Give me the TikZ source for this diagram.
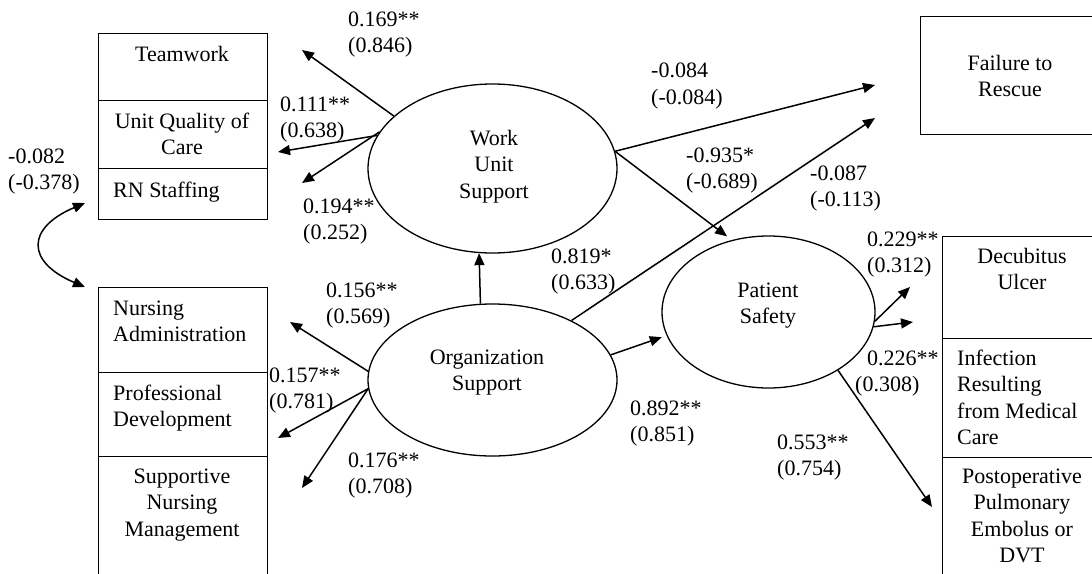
\documentclass[tikz,border=0pt]{standalone}
\usepackage{fontspec}
\setmainfont{Liberation Serif}
\usetikzlibrary{arrows.meta,shapes.geometric}
\newcommand\semfont{\fontsize{22}{26.5}\selectfont}
\begin{document}
\begin{tikzpicture}[x=1pt,y=-1pt,
  box/.style={draw,line width=1.4pt,rectangle,inner sep=0,anchor=north west},
  latent/.style={draw,line width=1.3pt,ellipse,inner sep=0},
  txt/.style={inner sep=0,font=\semfont},
  txtc/.style={txt,align=center,anchor=north},
  txtl/.style={txt,align=left,anchor=north west},
  tip/.style={-{Triangle[length=12pt,width=10pt]}},
  pathline/.style={line width=1.5pt,tip},
]
\useasboundingbox (0,0) rectangle (1092,573);
\clip (0,0) rectangle (1092,573);

% ---- indicator boxes, left ----
\node[box,minimum width=169pt,minimum height=67pt] (team) at (98,33) {};
\node[box,minimum width=169pt,minimum height=68pt] (uqc) at (98,100) {};
\node[box,minimum width=169pt,minimum height=51pt] (rn) at (98,168) {};
\node[box,minimum width=169pt,minimum height=85pt] (na) at (98,287) {};
\node[box,minimum width=169pt,minimum height=84pt] (pd) at (98,372) {};
\node[box,minimum width=169pt,minimum height=150pt] (snm) at (98,456) {};

% ---- outcome boxes, right ----
\node[box,minimum width=200pt,minimum height=118pt] (ftr) at (920,16) {};
\node[box,minimum width=180pt,minimum height=102pt] (dec) at (942,236) {};
\node[box,minimum width=180pt,minimum height=119pt] (inf) at (942,338) {};
\node[box,minimum width=180pt,minimum height=150pt] (pe) at (942,457) {};

% ---- box texts ----
\node[txtc] (teamT) at (182,42.45) {\strut Teamwork};
\node[txtc] (uqcT) at (182,109.45) {\strut Unit Quality of\\Care};
\node[txtl] (rnT) at (113,178.45) {\strut RN Staffing};
\node[txtl] (naT) at (113,296.45) {\strut Nursing\\Administration};
\node[txtl] (pdT) at (113,381.45) {\strut Professional\\Development};
\node[txtc] (snmT) at (182,464.45) {\strut Supportive\\Nursing\\Management};
\node[txtc] (ftrT) at (1010,51.45) {\strut Failure to\\Rescue};
\node[txtc] (decT) at (1022,244.45) {\strut Decubitus\\Ulcer};
\node[txtl] (infT) at (957,346.45) {\strut Infection\\Resulting\\from Medical\\Care};
\node[txtc] (peT) at (1022,464.45) {\strut Postoperative\\Pulmonary\\Embolus or\\DVT};

% ---- latent variables ----
\node[latent,minimum width=249pt,minimum height=169pt] (wus) at (492.5,168.5) {};
\node[latent,minimum width=249pt,minimum height=152pt] (os) at (492.5,380) {};
\node[latent,minimum width=213pt,minimum height=152pt] (ps) at (768.5,312) {};
\node[txtc] (wusT) at (494,126.45) {\strut Work\\Unit\\Support};
\node[txtc] (osT) at (487,345.45) {\strut Organization\\Support};
\node[txtc] (psT) at (768,278.45) {\strut Patient\\Safety};

% ---- arrow end points beside the boxes ----
\coordinate (tTeam) at (302,50);
\coordinate (tUQC) at (278,152);
\coordinate (tRN) at (302,183);
\coordinate (tNA) at (290,322);
\coordinate (tPD) at (278,438);
\coordinate (tSNM) at (302,488);
\coordinate (tFtR1) at (875,85);
\coordinate (tFtR2) at (875,118);
\coordinate (tDec) at (910,287);
\coordinate (tInf) at (913,322);
\coordinate (tPE) at (932,507);
\coordinate (cTop) at (85,203);
\coordinate (cBot) at (85,287);

% ---- loadings and paths ----
\draw[pathline] (wus.152.9) -- (tTeam);
\draw[pathline] (wus.164) -- (tUQC);
\draw[pathline] (wus.162) -- (tRN);
\draw[pathline] (wus.8) -- (tFtR1);
\draw[pathline,shorten >=6pt] (wus.8) -- (ps.117.7);
\draw[pathline] (os.99.4) -- (wus.261.5);
\draw[pathline] (os.37.5) -- (tFtR2);
\draw[pathline,shorten >=5pt] (os.12) -- (ps.193.5);
\draw[pathline] (os.176.3) -- (tNA);
\draw[pathline] (os.184.6) -- (tPD);
\draw[pathline] (os.184.6) -- (tSNM);
\draw[pathline] (ps.355.7) -- (tDec);
\draw[pathline] (ps.352) -- (tInf);
\draw[pathline] (ps.320.8) -- (tPE);

% correlation between the two support constructs
\draw[line width=1.5pt,{Triangle[length=12pt,width=10pt]}-{Triangle[length=12pt,width=10pt]}]
  (cTop) .. controls (26,228) and (26,262) .. (cBot);

% ---- coefficients ----
\node[txtl] (l1) at (348,7.45) {\strut 0.169**\\(0.846)};
\node[txtl] (l2) at (280,92.45) {\strut 0.111**\\(0.638)};
\node[txtl] (l3) at (303,194.45) {\strut 0.194**\\(0.252)};
\node[txtl] (l4) at (8,144.45) {\strut -0.082\\(-0.378)};
\node[txtl] (l5) at (326,278.45) {\strut 0.156**\\(0.569)};
\node[txtl] (l6) at (269,363.45) {\strut 0.157**\\(0.781)};
\node[txtl] (l7) at (348,448.45) {\strut 0.176**\\(0.708)};
\node[txtl] (l8) at (651,58.95) {\strut -0.084\\(-0.084)};
\node[txtl] (l9) at (686,143.45) {\strut -0.935*\\(-0.689)};
\node[txtl] (l10) at (810,161.45) {\strut -0.087\\(-0.113)};
\node[txtl] (l11) at (551,244.45) {\strut 0.819*\\(0.633)};
\node[txtl] (l12) at (867,227.45) {\strut 0.229**\\(0.312)};
\node[txtl] (l13) at (855,346.45) {\strut\hspace*{12pt}0.226**\\(0.308)};
\node[txtl] (l14) at (777,430.45) {\strut 0.553**\\(0.754)};
\node[txtl] (l15) at (630,396.45) {\strut 0.892**\\(0.851)};
\end{tikzpicture}
\end{document}
